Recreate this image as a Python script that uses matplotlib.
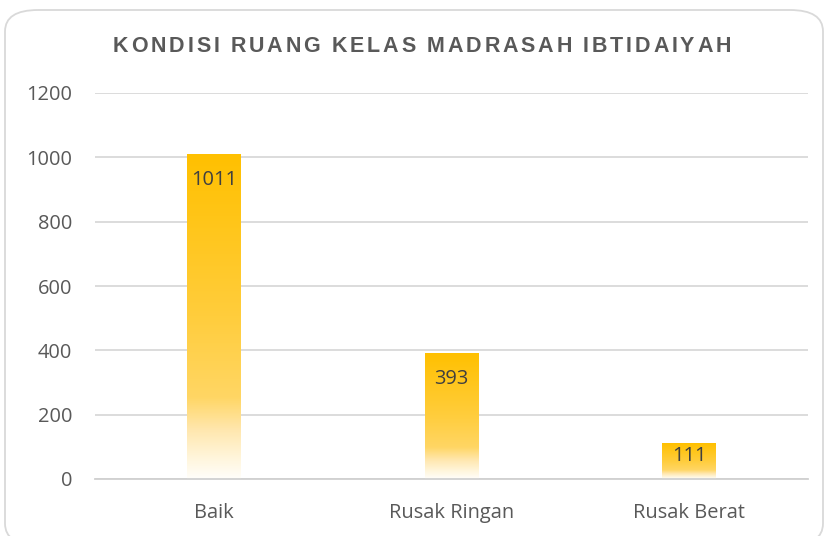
import matplotlib.pyplot as plt
import numpy as np
from matplotlib.colors import LinearSegmentedColormap
from matplotlib.patches import FancyBboxPatch

categories = ['Baik', 'Rusak Ringan', 'Rusak Berat']
values = [1011, 393, 111]
y_ticks = [0, 200, 400, 600, 800, 1000, 1200]
title = 'KONDISI RUANG KELAS MADRASAH IBTIDAIYAH'

plt.rcParams['font.family'] = ['Open Sans', 'DejaVu Sans']

fig = plt.figure(figsize=(8.28, 5.36), dpi=100)
fig.patch.set_facecolor('white')

# rounded chart frame
frame = FancyBboxPatch((5 / 828, 1 - 545 / 536), 818 / 828, 535 / 536,
                       boxstyle='round,pad=0,rounding_size=0.04',
                       transform=fig.transFigure, facecolor='none',
                       edgecolor='#D9D9D9', linewidth=1.3, zorder=0)
fig.patches.append(frame)

ax = fig.add_axes([95 / 828, 57 / 536, 713 / 828, 386 / 536])

# gold fading into white toward the base
fade = LinearSegmentedColormap.from_list('fade', [
    (0.0, '#FFFEFA'),
    (0.06, '#FFF6DD'),
    (0.15, '#FFE7AE'),
    (0.25, '#FFD664'),
    (0.5, '#FFCD3C'),
    (1.0, '#FFC000'),
])

x = np.arange(len(categories))
width = 0.227
bars = ax.bar(x, values, width=width, facecolor='none', edgecolor='none', zorder=2)
grad = np.linspace(0, 1, 256).reshape(-1, 1)
for bar, v in zip(bars, values):
    x0 = bar.get_x()
    im = ax.imshow(grad, cmap=fade, aspect='auto', origin='lower',
                   extent=[x0, x0 + bar.get_width(), 0, v], zorder=2)
    im.set_clip_path(bar)
    # short bars get their label tucked right under the top
    off = 50 if v > 150 else 9
    ax.text(bar.get_x() + bar.get_width() / 2, v - off, str(v),
            ha='center', va='top', fontsize=14.4, color='#404040', zorder=3)

ax.set_xlim(-0.5, 2.5)
ax.set_ylim(0, 1200)
ax.set_yticks(y_ticks)
ax.set_xticks(x)
ax.set_xticklabels(categories)
ax.tick_params(axis='both', length=0, labelsize=14.4, labelcolor='#595959')
ax.tick_params(axis='y', pad=16.5)
ax.tick_params(axis='x', pad=17)
ax.grid(axis='y', color='#D9D9D9', linewidth=1.3, zorder=0)
ax.set_axisbelow(True)
for side in ['top', 'right', 'left']:
    ax.spines[side].set_visible(False)
ax.spines['bottom'].set_color('#D0D0D0')
ax.spines['bottom'].set_linewidth(1.3)

# letter-spaced title, laid out one character at a time
renderer = fig.canvas.get_renderer()
spacing = 2.85
cursor = 0.0
letters = []
for ch in title:
    t = fig.text(0, 0.914, ch, ha='left', va='center', fontsize=15.5,
                 fontweight='bold', color='#595959',
                 family=['Liberation Sans', 'DejaVu Sans'])
    letters.append((t, cursor))
    w = t.get_window_extent(renderer).width if ch != ' ' else 5.5
    cursor += w + spacing
total = cursor - spacing
start = 422 - total / 2
for t, off in letters:
    t.set_x((start + off) / 828)

fig.savefig('out.png', dpi=100)
